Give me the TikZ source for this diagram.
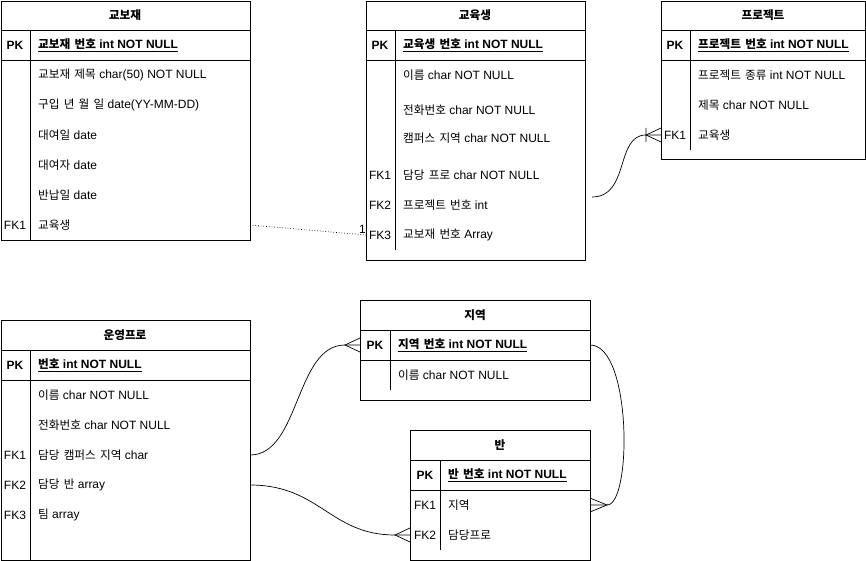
\documentclass[tikz,border=0pt]{standalone}
\usepackage{fontspec}
\setmainfont{Liberation Sans}
\newfontfamily\kr{Noto Sans CJK KR}[Scale=0.97, WordSpace=1.6]
\usepackage{tikz}
\usetikzlibrary{positioning}

\tikzset{
  tbl/.style={draw, black, line width=0.8pt, inner sep=0pt, outer sep=0pt, anchor=north west},
  ttl/.style={inner sep=0pt},
  key/.style={inner sep=0pt},
  fld/.style={anchor=west, inner sep=0pt},
  rel/.style={black, line width=0.7pt},
}

\begin{document}
\begin{tikzpicture}[x=1pt, y=-1pt, font=\fontsize{12}{14}\selectfont]
  \useasboundingbox (0,0) rectangle (866,561);

  % 교보재
  \node[tbl, minimum width=249pt, minimum height=239pt] (gyobojae) at (1,1) {};
  \draw[line width=0.8pt] (1,30) -- (250,30) (1,60) -- (250,60) (30,30) -- (30,240);
  \node[ttl] (gyobojae-title) at (125,15) {\bfseries\kr 교보재};
  \node[key] (gyobojae-pk) at (15,45) {\bfseries PK};
  \node[fld] (gyobojae-r0) at (38,45) {\bfseries\underline{{\kr 교보재 번호} int NOT NULL}};
  \node[fld] (gyobojae-r1) at (38,75) {{\kr 교보재 제목} char(50) NOT NULL};
  \node[fld] (gyobojae-r2) at (38,105) {{\kr 구입 년 월 일} date(YY-MM-DD)};
  \node[fld] (gyobojae-r3) at (38,135) {{\kr 대여일} date};
  \node[fld] (gyobojae-r4) at (38,165) {{\kr 대여자} date};
  \node[fld] (gyobojae-r5) at (38,195) {{\kr 반납일} date};
  \node[key] (gyobojae-fk1) at (15,225) {FK1};
  \node[fld] (gyobojae-r6) at (38,225) {\kr 교육생};

  % 교육생
  \node[tbl, minimum width=219pt, minimum height=259pt] (gyoyuksaeng) at (366,1) {};
  \draw[line width=0.8pt] (366,30) -- (585,30) (366,60) -- (585,60) (395,30) -- (395,250);
  \node[ttl] (gyoyuksaeng-title) at (475,15) {\bfseries\kr 교육생};
  \node[key] (gyoyuksaeng-pk) at (380,45) {\bfseries PK};
  \node[fld] (gyoyuksaeng-r0) at (403,45) {\bfseries\underline{{\kr 교육생 번호} int NOT NULL}};
  \node[fld] (gyoyuksaeng-r1) at (403,75) {{\kr 이름} char NOT NULL};
  \node[fld] (gyoyuksaeng-r2) at (403,110) {{\kr 전화번호} char NOT NULL};
  \node[fld] (gyoyuksaeng-r3) at (403,138) {{\kr 캠퍼스 지역} char NOT NULL};
  \node[key] (gyoyuksaeng-fk1) at (380,175) {FK1};
  \node[fld] (gyoyuksaeng-r4) at (403,175) {{\kr 담당 프로} char NOT NULL};
  \node[key] (gyoyuksaeng-fk2) at (380,205) {FK2};
  \node[fld] (gyoyuksaeng-r5) at (403,205) {{\kr 프로젝트 번호} int};
  \node[key] (gyoyuksaeng-fk3) at (380,235) {FK3};
  \node[fld] (gyoyuksaeng-r6) at (403,235) {{\kr 교보재 번호} Array};

  % 프로젝트
  \node[tbl, minimum width=204pt, minimum height=158pt] (project) at (661,1) {};
  \draw[line width=0.8pt] (661,30) -- (865,30) (661,60) -- (865,60) (690,30) -- (690,150);
  \node[ttl] (project-title) at (763,15) {\bfseries\kr 프로젝트};
  \node[key] (project-pk) at (675,45) {\bfseries PK};
  \node[fld] (project-r0) at (698,45) {\bfseries\underline{{\kr 프로젝트 번호} int NOT NULL}};
  \node[fld] (project-r1) at (698,75) {{\kr 프로젝트 종류} int NOT NULL};
  \node[fld] (project-r2) at (698,105) {{\kr 제목} char NOT NULL};
  \node[key] (project-fk1) at (675,135) {FK1};
  \node[fld] (project-r3) at (698,135) {\kr 교육생};

  % 운영프로
  \node[tbl, minimum width=249pt, minimum height=240pt] (unyeong) at (1,320) {};
  \draw[line width=0.8pt] (1,350) -- (250,350) (1,380) -- (250,380) (30,350) -- (30,560);
  \node[ttl] (unyeong-title) at (125,335) {\bfseries\kr 운영프로};
  \node[key] (unyeong-pk) at (15,365) {\bfseries PK};
  \node[fld] (unyeong-r0) at (38,365) {\bfseries\underline{{\kr 번호} int NOT NULL}};
  \node[fld] (unyeong-r1) at (38,395) {{\kr 이름} char NOT NULL};
  \node[fld] (unyeong-r2) at (38,425) {{\kr 전화번호} char NOT NULL};
  \node[key] (unyeong-fk1) at (15,455) {FK1};
  \node[fld] (unyeong-r3) at (38,455) {{\kr 담당 캠퍼스 지역} char};
  \node[key] (unyeong-fk2) at (15,485) {FK2};
  \node[fld] (unyeong-r4) at (38,485) {{\kr 담당 반} array};
  \node[key] (unyeong-fk3) at (15,515) {FK3};
  \node[fld] (unyeong-r5) at (38,515) {{\kr 팀} array};

  % 지역
  \node[tbl, minimum width=230pt, minimum height=100pt] (jiyeok) at (360,300) {};
  \draw[line width=0.8pt] (360,330) -- (590,330) (360,360) -- (590,360) (390,330) -- (390,390);
  \node[ttl] (jiyeok-title) at (475,315) {\bfseries\kr 지역};
  \node[key] (jiyeok-pk) at (375,345) {\bfseries PK};
  \node[fld] (jiyeok-r0) at (398,345) {\bfseries\underline{{\kr 지역 번호} int NOT NULL}};
  \node[fld] (jiyeok-r1) at (398,375) {{\kr 이름} char NOT NULL};

  % 반
  \node[tbl, minimum width=180pt, minimum height=130pt] (ban) at (410,430) {};
  \draw[line width=0.8pt] (410,460) -- (590,460) (410,490) -- (590,490) (440,460) -- (440,550);
  \node[ttl] (ban-title) at (500,445) {\bfseries\kr 반};
  \node[key] (ban-pk) at (425,475) {\bfseries PK};
  \node[fld] (ban-r0) at (448,475) {\bfseries\underline{{\kr 반 번호} int NOT NULL}};
  \node[key] (ban-fk1) at (425,505) {FK1};
  \node[fld] (ban-r1) at (448,505) {\kr 지역};
  \node[key] (ban-fk2) at (425,535) {FK2};
  \node[fld] (ban-r2) at (448,535) {\kr 담당프로};

  % relations
  \draw[rel, dotted] (gyobojae.east |- gyobojae-fk1) -- node[pos=0.97, above, inner sep=1pt] {1} (gyoyuksaeng.west |- gyoyuksaeng-fk3);

  \coordinate (gy-out) at (592,197);
  \coordinate (pj-in) at (project.west |- project-fk1);
  \draw[rel] (gy-out) .. controls (630,197) and (615,135) .. ([xshift=-15pt]pj-in) -- (pj-in);
  \draw[rel] ([yshift=7pt]pj-in) -- ([xshift=-15pt]pj-in) -- ([yshift=-7pt]pj-in)
    ([xshift=-15pt,yshift=7pt]pj-in) -- ([xshift=-15pt,yshift=-7pt]pj-in);

  \coordinate (jy-in) at (jiyeok.west |- jiyeok-pk);
  \draw[rel] (unyeong.east |- unyeong-fk1) .. controls (300,455) and (295,345) .. ([xshift=-15pt]jy-in) -- (jy-in);
  \draw[rel] ([yshift=7pt]jy-in) -- ([xshift=-15pt]jy-in) -- ([yshift=-7pt]jy-in);

  \coordinate (ban-in1) at (ban.east |- ban-fk1);
  \draw[rel] (jiyeok.east |- jiyeok-pk) .. controls (632,345) and (632,505) .. ([xshift=17pt]ban-in1) -- (ban-in1);
  \draw[rel] ([yshift=7pt]ban-in1) -- ([xshift=17pt]ban-in1) -- ([yshift=-7pt]ban-in1);

  \coordinate (ban-in2) at (ban.west |- ban-fk2);
  \draw[rel] (unyeong.east |- unyeong-fk2) .. controls (320,485) and (330,535) .. ([xshift=-15pt]ban-in2) -- (ban-in2);
  \draw[rel] ([yshift=7pt]ban-in2) -- ([xshift=-15pt]ban-in2) -- ([yshift=-7pt]ban-in2);
\end{tikzpicture}
\end{document}
